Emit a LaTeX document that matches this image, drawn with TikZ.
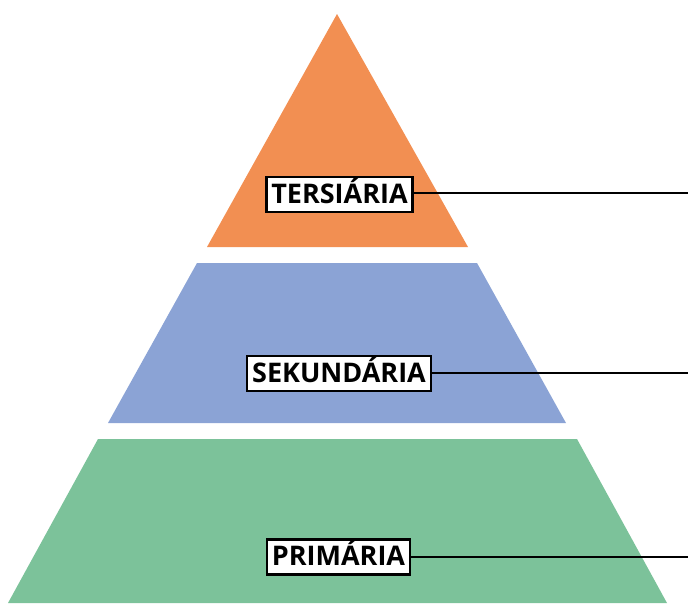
\documentclass[tikz,border=0pt]{standalone}
\usepackage{fontspec}
\setmainfont{Open Sans}
\definecolor{ortier}{HTML}{F28F52}
\definecolor{bltier}{HTML}{8BA3D5}
\definecolor{grtier}{HTML}{7CC29A}
\begin{document}
\begin{tikzpicture}[x=1pt,y=-1pt,
  tierlabel/.style={draw=black,line width=2.5pt,fill=white,inner xsep=5pt,inner ysep=6pt,
    font=\fontsize{27}{30}\selectfont\bfseries, text height=20pt, text depth=3pt},
  leader/.style={draw=black,line width=2.5pt}]
\useasboundingbox (0,0) rectangle (688,603);
\fill[ortier] (337,14) -- (468,247) -- (207,247) -- cycle;
\fill[bltier] (197,263) -- (477,263) -- (566,423) -- (108,423) -- cycle;
\fill[grtier] (98,439) -- (577,439) -- (667,603) -- (8,603) -- cycle;
\node[tierlabel] (ter) at (339.5,194.5) {TERSIÁRIA};
\node[tierlabel] (sek) at (339,373.5) {SEKUNDÁRIA};
\node[tierlabel] (pri) at (338.5,557) {PRIMÁRIA};
\coordinate (terend) at (688,193);
\coordinate (sekend) at (688,373);
\coordinate (priend) at (688,557);
\draw[leader] (ter.east |- terend) -- (terend);
\draw[leader] (sek.east |- sekend) -- (sekend);
\draw[leader] (pri.east |- priend) -- (priend);
\end{tikzpicture}
\end{document}
